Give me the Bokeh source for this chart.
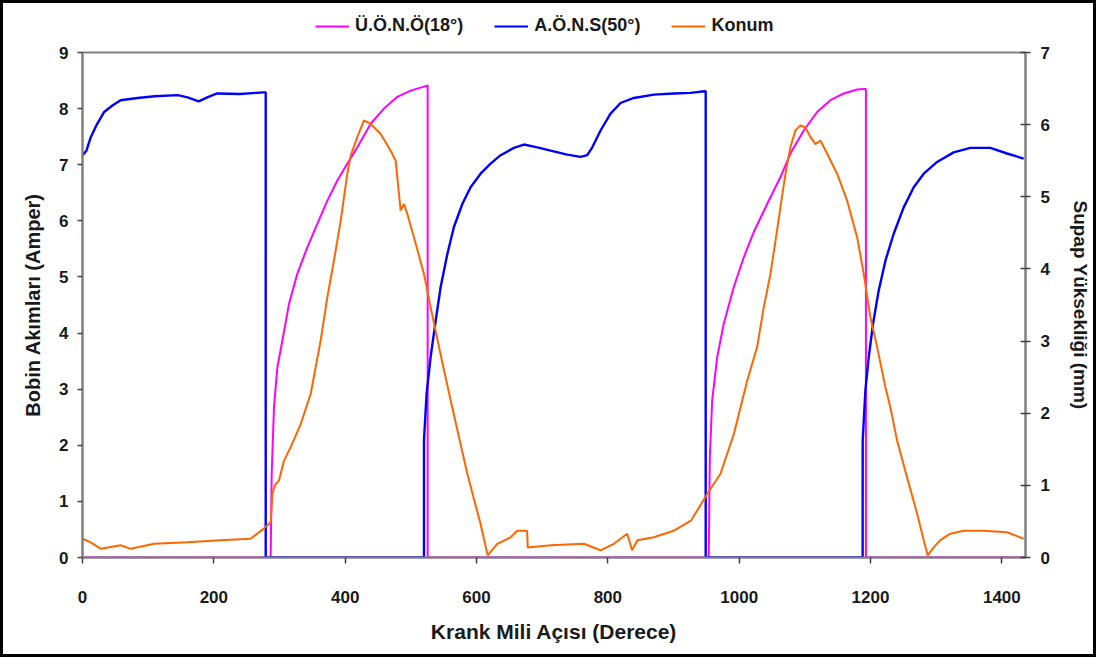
from bokeh.plotting import figure
from bokeh.layouts import column
from bokeh.models import Range1d, LinearAxis, Legend, LegendItem, FixedTicker
from bokeh.embed import file_html
from bokeh.resources import INLINE

# --- data ---
uono_x = [0, 286.6, 286.6, 288.1, 291.6, 296.8, 304.4, 314.5, 327.2, 342.5, 357.7, 372.9, 388.1,
          403.3, 418.6, 438.8, 459.1, 479.5, 499.7, 525, 525.6, 525.6,
          953.7, 953.7, 955.3, 958.9, 966.5, 976.6, 991.8, 1007, 1022.2, 1042.6, 1062.9, 1078,
          1098.3, 1118.7, 1139, 1159.2, 1179.6, 1189.7, 1193, 1193, 1436]
uono_y = [0, 0, 0.07, 1.49, 2.68, 3.39, 3.87, 4.52, 5.06, 5.53, 5.95, 6.36, 6.72,
          7.02, 7.31, 7.73, 8.00, 8.21, 8.32, 8.41, 8.41, 0,
          0, 0.07, 1.79, 2.80, 3.57, 4.17, 4.82, 5.35, 5.80, 6.30, 6.78, 7.20,
          7.61, 7.94, 8.15, 8.27, 8.34, 8.35, 8.35, 0, 0]

aons_x = [0, 6, 12.6, 22, 33, 45, 58, 84, 110, 145, 160, 177, 190, 205, 240, 276, 279, 279,
          520, 520, 524, 530.1, 537.8, 545.4, 555.6, 565.6, 578.4, 591, 606.2, 621.5, 636.7, 656.9,
          672.1, 692.5, 712.8, 738.2, 758.4, 768.6, 776.3, 788.9, 804.1, 819.3, 839.6, 870, 900.4,
          925.9, 947.2, 949, 949,
          1188, 1188.1, 1192.2, 1197.3, 1203.9, 1212.5, 1222.7, 1235.3, 1250.5, 1265.8, 1281, 1301.4,
          1326.6, 1352, 1382.5, 1407.9, 1433.2]
aons_y = [7.17, 7.25, 7.49, 7.72, 7.94, 8.05, 8.15, 8.19, 8.22, 8.24, 8.20, 8.13, 8.20, 8.27, 8.26,
          8.29, 8.29, 0,
          0, 2.09, 2.92, 3.57, 4.22, 4.82, 5.41, 5.89, 6.30, 6.60, 6.84, 7.02, 7.17, 7.30,
          7.36, 7.31, 7.25, 7.18, 7.14, 7.17, 7.31, 7.61, 7.91, 8.10, 8.19, 8.25, 8.27,
          8.28, 8.31, 8.31, 0,
          0, 2.09, 2.98, 3.57, 4.17, 4.76, 5.29, 5.77, 6.24, 6.60, 6.84, 7.05,
          7.22, 7.30, 7.30, 7.20, 7.11]

konum_x = [0, 12.6, 28, 58, 73.5, 109, 160, 210, 256, 276, 286.6, 289.2, 292.7, 299.3, 306.8, 317,
           332.3, 347.5, 362.7, 372.9, 383, 393.2, 403.3, 408.4, 418.6, 428.6, 438.8, 454, 469.3,
           476.9, 481.9, 484.5, 489.5, 494.7, 504.7, 520, 530.1, 545.4, 560.6, 586, 606, 617,
           631.6, 652, 662, 677, 678, 713, 763.5, 789, 809, 829.5, 837, 845, 870, 900,
           926.5, 951.3, 971.5, 991.8, 1012.2, 1027.4, 1037.5, 1047.6, 1055.3, 1062.9, 1070.5,
           1078.1, 1085.7, 1093.3, 1100.9, 1108.5, 1116.1, 1123.7, 1133.9, 1149.1, 1164.3, 1179.6,
           1189.7, 1199.8, 1210, 1222.7, 1230.3, 1240.5, 1255.7, 1270.9, 1281, 1287.1, 1296.2,
           1306.4, 1321.6, 1341.9, 1372.3, 1407.9, 1433.2]
konum_y = [0.26, 0.21, 0.12, 0.17, 0.12, 0.19, 0.21, 0.24, 0.26, 0.40, 0.49, 0.88, 1.00, 1.07,
           1.34, 1.53, 1.85, 2.27, 3.01, 3.61, 4.12, 4.67, 5.32, 5.57, 5.83, 6.06, 6.01, 5.87, 5.64,
           5.50, 5.04, 4.81, 4.90, 4.76, 4.44, 3.93, 3.47, 2.81, 2.18, 1.16, 0.47, 0.03,
           0.19, 0.28, 0.37, 0.37, 0.14, 0.17, 0.19, 0.10, 0.19, 0.33, 0.10, 0.24, 0.28, 0.37,
           0.51, 0.88, 1.16, 1.71, 2.45, 2.92, 3.47, 3.93, 4.39, 4.86, 5.32,
           5.69, 5.92, 5.99, 5.96, 5.83, 5.73, 5.78, 5.60, 5.32, 4.95, 4.44,
           3.93, 3.33, 2.92, 2.36, 2.08, 1.62, 1.11, 0.61, 0.24, 0.03, 0.14,
           0.24, 0.33, 0.37, 0.37, 0.35, 0.26]

series_names = ["Ü.Ö.N.Ö(18°)", "A.Ö.N.S(50°)", "Konum"]
series_colors = ["#FF00FF", "#0000FF", "#FF6600"]

x_ticks = [0, 200, 400, 600, 800, 1000, 1200, 1400]
left_ticks = list(range(0, 10))
right_ticks = list(range(0, 8))

FONT = "Liberation Sans"

# ---------- legend strip (top) ----------
top = figure(width=1090, height=41, output_backend="svg", toolbar_location=None,
             x_axis_type=None, y_axis_type=None, x_range=Range1d(0, 1436), y_range=Range1d(100, 101))
top.min_border = 0
top.outline_line_color = None
top.xgrid.visible = False
top.ygrid.visible = False
top.border_fill_color = "white"
t1 = top.line(uono_x, uono_y, line_color=series_colors[0], line_width=2)
t2 = top.line(aons_x, aons_y, line_color=series_colors[1], line_width=2)
t3 = top.line(konum_x, konum_y, line_color=series_colors[2], line_width=2)
legend = Legend(items=[LegendItem(label=n, renderers=[r]) for n, r in zip(series_names, [t1, t2, t3])],
                orientation="horizontal", location=(233, 8),
                glyph_width=34, glyph_height=16, label_standoff=6, spacing=31, padding=0, margin=0,
                border_line_color=None, background_fill_alpha=0,
                label_text_font=FONT, label_text_font_style="bold",
                label_text_font_size="18px", label_text_color="#1a1a1a")
top.add_layout(legend, "center")

# ---------- main chart ----------
p = figure(width=1090, height=610, output_backend="svg", toolbar_location=None,
           x_range=Range1d(0, 1436), y_range=Range1d(0, 9))
p.min_border_left = 79
p.min_border_right = 68
p.min_border_top = 8
p.min_border_bottom = 97
p.background_fill_color = "white"
p.border_fill_color = "white"
p.outline_line_color = "#808080"
p.outline_line_width = 2
p.xgrid.visible = False
p.ygrid.visible = False

p.extra_y_ranges = {"mm": Range1d(0, 7)}

r1 = p.line(uono_x, uono_y, line_color=series_colors[0], line_width=2)
r2 = p.line(aons_x, aons_y, line_color=series_colors[1], line_width=2.4)
r3 = p.line(konum_x, konum_y, line_color=series_colors[2], line_width=2, y_range_name="mm")

def style_axis(ax):
    ax.axis_line_color = "#808080"
    ax.axis_line_width = 2
    ax.major_tick_line_color = "#404040"
    ax.major_tick_line_width = 1.5
    ax.minor_tick_line_color = None
    ax.major_label_text_font = FONT
    ax.major_label_text_font_style = "bold"
    ax.major_label_text_font_size = "17px"
    ax.major_label_text_color = "#1a1a1a"
    ax.axis_label_text_font = FONT
    ax.axis_label_text_font_style = "bold"
    ax.axis_label_text_color = "#1a1a1a"

xa = p.xaxis[0]
style_axis(xa)
xa.ticker = FixedTicker(ticks=x_ticks)
xa.major_tick_out = 6
xa.major_tick_in = 0
xa.major_label_standoff = 27
xa.axis_label = "Krank Mili Açısı (Derece)"
xa.axis_label_text_font_size = "21px"
xa.axis_label_standoff = 14

ya = p.yaxis[0]
style_axis(ya)
ya.ticker = FixedTicker(ticks=left_ticks)
ya.major_tick_out = 5
ya.major_tick_in = 0
ya.major_label_standoff = 9
ya.axis_label = "Bobin Akımları (Amper)"
ya.axis_label_text_font_size = "20px"
ya.axis_label_standoff = 12

ra = LinearAxis(y_range_name="mm")
style_axis(ra)
ra.ticker = FixedTicker(ticks=right_ticks)
ra.major_tick_out = 5
ra.major_tick_in = 5
ra.major_label_standoff = 10
ra.axis_label = "Supap Yüksekliği (mm)"
ra.axis_label_text_font_size = "19px"
ra.axis_label_standoff = 17
p.add_layout(ra, "right")

layout = column(top, p, spacing=0)
layout.styles = {"border": "3px solid black", "box-sizing": "content-box"}

open("out.html", "w").write(file_html(layout, INLINE))
